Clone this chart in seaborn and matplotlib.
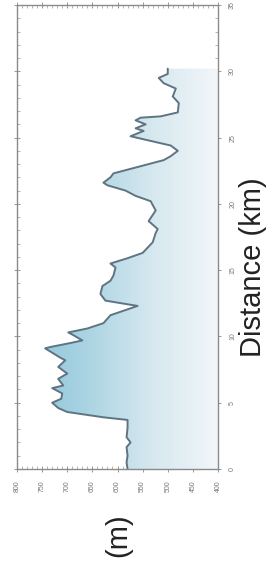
import numpy as np
import matplotlib
matplotlib.use("Agg")
import matplotlib.pyplot as plt
from matplotlib.colors import LinearSegmentedColormap
from matplotlib.patches import Polygon
import seaborn as sns

# Data (distance km, elevation m)
distance_km = [0.0, 0.5, 1.0, 1.65, 2.0, 2.4, 3.1, 3.7, 3.9, 4.3, 4.6, 5.0, 5.3, 5.7,
               6.1, 6.3, 6.8, 7.2, 7.7, 8.2, 8.4, 9.1, 9.2, 9.5, 9.7, 10.1, 10.3,
               10.6, 11.0, 11.6, 12.3, 12.7, 13.2, 13.8, 14.2, 14.6, 15.2, 15.5,
               15.9, 16.3, 17.1, 17.8, 18.1, 18.7, 19.5, 20.2, 20.6, 21.0, 21.4,
               21.6, 22.0, 22.3, 22.9, 23.3, 23.6, 24.0, 24.4, 24.8, 25.1, 25.5,
               25.7, 26.0, 26.3, 26.5, 26.6, 26.9, 27.6, 28.1, 28.7, 29.1, 29.5,
               29.8, 30.2]
elevation_m = [580, 582, 580, 582, 574, 582, 580, 580, 628, 700, 718, 730, 712, 710,
               730, 708, 718, 700, 718, 704, 714, 744, 734, 694, 670, 688, 698,
               660, 628, 614, 560, 624, 634, 630, 614, 608, 604, 614,
               580, 550, 530, 524, 520, 538, 524, 534, 564, 584, 620,
               628, 614, 608, 548, 508, 494, 480, 494, 540, 574, 548,
               564, 544, 564, 554, 514, 480, 478, 490, 484, 508, 518,
               500, 500]
elev_ticks = [800, 750, 700, 650, 600, 550, 500, 450, 400]
dist_ticks = [0, 5, 10, 15, 20, 25, 30, 35]

sns.set_style("white")
plt.rcParams['font.family'] = ['Liberation Sans', 'DejaVu Sans']

fig = plt.figure(figsize=(2.76, 5.69), dpi=100)
ax = fig.add_axes([17/276, 100/569, 201/276, 464/569])

# gradient fill under the profile
cmap = LinearSegmentedColormap.from_list("g", ["#f2f6f9", "#d6e8ef", "#a9d3e2", "#86c3da"])
grad = np.linspace(0, 1, 256).reshape(1, -1)
im = ax.imshow(grad, extent=[400, 800, 0, 35], aspect="auto", cmap=cmap,
               origin="lower", zorder=1)
poly_xy = list(zip(elevation_m, distance_km)) + [(400, distance_km[-1]), (400, distance_km[0])]
poly = Polygon(poly_xy, closed=True, transform=ax.transData, facecolor="none", edgecolor="none")
ax.add_patch(poly)
im.set_clip_path(poly)

sns.lineplot(x=elevation_m, y=distance_km, orient="y", sort=False, ax=ax,
             color="#5f7482", linewidth=1.4, zorder=3)

ax.set_xlim(800, 400)
ax.set_ylim(0, 35)
ax.set_xticks(elev_ticks)
ax.set_xticklabels([str(t) for t in elev_ticks], rotation=90, fontsize=5, color="#777777")
ax.set_yticks(dist_ticks)
ax.yaxis.tick_right()
ax.set_yticklabels([str(t) for t in dist_ticks], rotation=90, fontsize=5, color="#777777",
                   va="center")
ax.set_xticks(np.arange(400, 801, 10), minor=True)
ax.set_yticks(np.arange(0, 35.1, 1), minor=True)
ax.tick_params(which="major", direction="inout", length=4, width=0.6, color="#888888",
               top=True, bottom=True, left=True, right=True, pad=6)
ax.tick_params(which="minor", direction="in", length=2, width=0.5, color="#999999",
               top=True, bottom=True, left=True, right=True)
for s in ax.spines.values():
    s.set_color("#8a8a8a")
    s.set_linewidth(1.0)

ax.set_xlabel("")
ax.set_ylabel("")
fig.text(118/276, 1 - 535/569, "(m)", rotation=90, ha="center", va="center",
         fontsize=21, color="#222222")
fig.text(253/276, 1 - 267/569, "Distance (km)", rotation=90, ha="center", va="center",
         fontsize=21, color="#222222")

fig.savefig("out.png", dpi=100)
